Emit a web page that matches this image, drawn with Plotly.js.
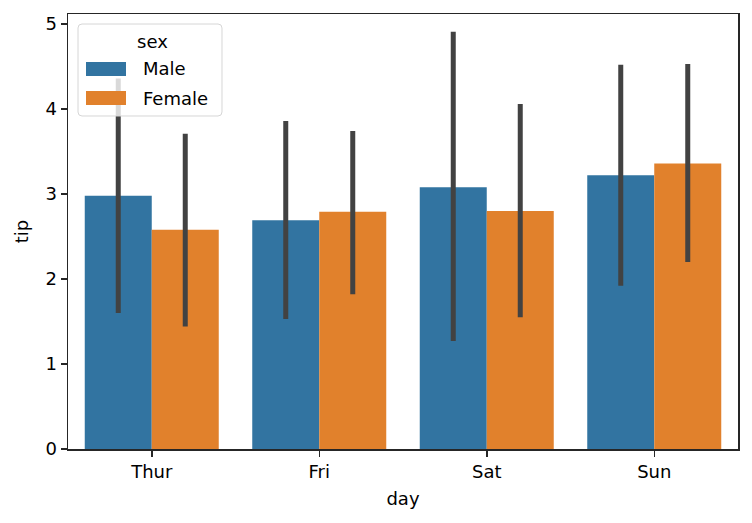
<!DOCTYPE html>
<html>
<head>
<meta charset="utf-8">
<script src="https://cdn.plot.ly/plotly-3.0.1.min.js"></script>
<style>html,body{margin:0;padding:0;background:#fff;}#chart{width:752px;height:523px;}</style>
</head>
<body>
<div id="chart"></div>
<script>
const days = ["Thur", "Fri", "Sat", "Sun"];
const seriesNames = ["Male", "Female"];
const maleMean = [2.98, 2.69, 3.08, 3.22];
const maleLow = [1.60, 1.53, 1.27, 1.92];
const maleHigh = [4.36, 3.86, 4.91, 4.52];
const femaleMean = [2.58, 2.79, 2.80, 3.36];
const femaleLow = [1.44, 1.82, 1.55, 2.20];
const femaleHigh = [3.71, 3.74, 4.06, 4.53];
const yTicks = [0, 1, 2, 3, 4, 5];

const colors = ["#3274a1", "#e1812c"];
const FONT = "DejaVu Sans";
const FS = 18;

function mkTrace(name, mean, low, high, color) {
  return {
    type: "bar", name: name, x: days, y: mean,
    marker: {color: color, line: {width: 0}},
    error_y: {
      type: "data", symmetric: false,
      array: high.map((h, i) => h - mean[i]),
      arrayminus: low.map((l, i) => mean[i] - l),
      color: "#424242", thickness: 5, width: 0
    },
    showlegend: false, hoverinfo: "skip"
  };
}

const traces = [
  mkTrace(seriesNames[0], maleMean, maleLow, maleHigh, colors[0]),
  mkTrace(seriesNames[1], femaleMean, femaleLow, femaleHigh, colors[1])
];

// Custom legend (pixel positions converted to paper coordinates)
const L = 68, R = 738, T = 14, B = 449;
const px = v => (v - L) / (R - L);
const py = v => (B - v) / (B - T);
function roundRect(x0, y0, x1, y1, r) {
  const P = (x, y) => px(x).toFixed(5) + "," + py(y).toFixed(5);
  return "M" + P(x0 + r, y0) + " L" + P(x1 - r, y0) + " Q" + P(x1, y0) + " " + P(x1, y0 + r) +
    " L" + P(x1, y1 - r) + " Q" + P(x1, y1) + " " + P(x1 - r, y1) +
    " L" + P(x0 + r, y1) + " Q" + P(x0, y1) + " " + P(x0, y1 - r) +
    " L" + P(x0, y0 + r) + " Q" + P(x0, y0) + " " + P(x0 + r, y0) + " Z";
}
const shapes = [
  {type: "path", xref: "paper", yref: "paper", layer: "above",
   path: roundRect(78, 24, 222, 116, 4),
   fillcolor: "rgba(255,255,255,0.8)", line: {color: "#d6d6d6", width: 1}}
];
const annotations = [
  {xref: "paper", yref: "paper", x: px(152), y: py(41), text: "sex", showarrow: false,
   xanchor: "center", yanchor: "middle", font: {family: FONT, size: FS, color: "#000"}}
];
seriesNames.forEach((n, i) => {
  const cy = 69 + i * 29;
  shapes.push({type: "rect", xref: "paper", yref: "paper", layer: "above",
    x0: px(86), x1: px(126), y0: py(cy + 7), y1: py(cy - 7),
    fillcolor: colors[i], line: {width: 0}});
  annotations.push({xref: "paper", yref: "paper", x: px(141), y: py(cy), text: n,
    showarrow: false, xanchor: "left", yanchor: "middle",
    font: {family: FONT, size: FS, color: "#000"}});
});

const layout = {
  width: 752, height: 523,
  margin: {l: L, r: 752 - R, t: T, b: 523 - B, pad: 0},
  paper_bgcolor: "#fff", plot_bgcolor: "#fff",
  font: {family: FONT, size: FS, color: "#000"},
  barmode: "group", bargap: 0.2, bargroupgap: 0,
  xaxis: {
    type: "category", range: [-0.5, 3.5],
    showline: true, mirror: true, linecolor: "#262626", linewidth: 1.5,
    ticks: "outside", ticklen: 6, tickwidth: 1.5, tickcolor: "#262626",
    showgrid: false, zeroline: false,
    tickfont: {family: FONT, size: FS, color: "#000"},
    title: {text: "day", font: {family: FONT, size: FS, color: "#000"}, standoff: 11}
  },
  yaxis: {
    range: [0, 5.118],
    tickvals: yTicks, ticktext: yTicks.map(String),
    showline: true, mirror: true, linecolor: "#262626", linewidth: 1.5,
    ticks: "outside", ticklen: 6, tickwidth: 1.5, tickcolor: "#262626",
    showgrid: false, zeroline: false,
    tickfont: {family: FONT, size: FS, color: "#000"},
    title: {text: "tip", font: {family: FONT, size: FS, color: "#000"}, standoff: 12}
  },
  shapes: shapes,
  annotations: annotations,
  showlegend: false
};

Plotly.newPlot("chart", traces, layout, {displayModeBar: false, staticPlot: true});
</script>
</body>
</html>
